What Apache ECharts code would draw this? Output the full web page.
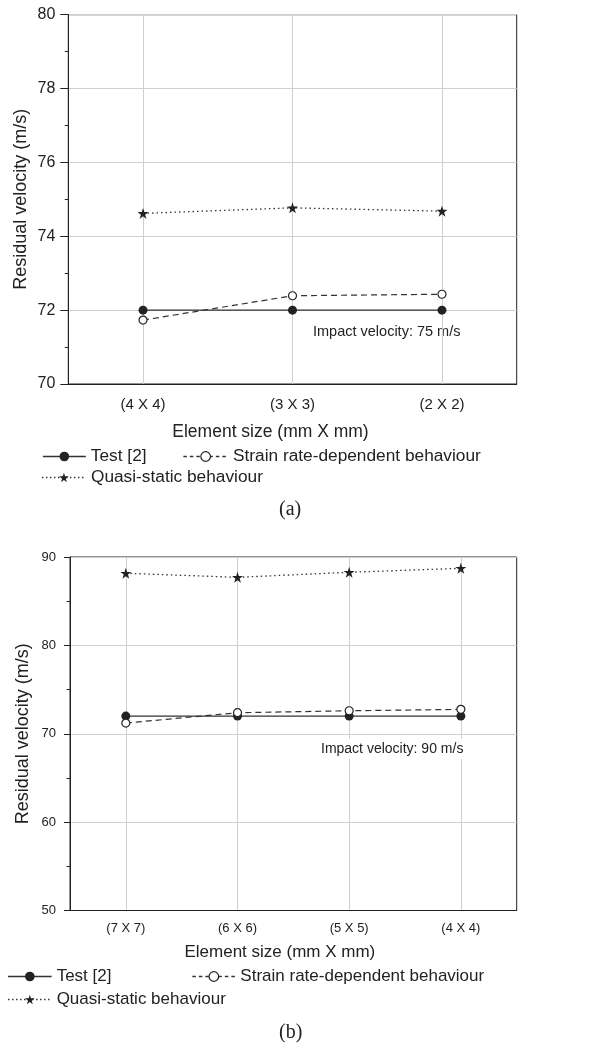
<!DOCTYPE html>
<html>
<head>
<meta charset="utf-8">
<script src="https://cdn.jsdelivr.net/npm/echarts/dist/echarts.min.js"></script>
<style>
  html, body { margin: 0; padding: 0; background: #fff; }
  #chart { width: 590px; height: 1044px; }
</style>
</head>
<body>
<div id="chart"></div>
<script>
// panel (a) - impact velocity 75 m/s
const catsA = ['(4 X 4)', '(3 X 3)', '(2 X 2)'];
const testA = [72, 72, 72];
const strainA = [71.73, 72.39, 72.43];
const quasiA = [74.62, 74.77, 74.68];
const yTicksA = [70, 72, 74, 76, 78, 80];

// panel (b) - impact velocity 90 m/s
const catsB = ['(7 X 7)', '(6 X 6)', '(5 X 5)', '(4 X 4)'];
const testB = [72, 72, 72, 72];
const strainB = [71.21, 72.38, 72.6, 72.76];
const quasiB = [88.16, 87.7, 88.27, 88.72];
const yTicksB = [50, 60, 70, 80, 90];

const names = ['Test [2]', 'Strain rate-dependent behaviour', 'Quasi-static behaviour'];

var FONT = '"Liberation Sans", Arial, Helvetica, sans-serif';
var SERIF = '"Liberation Serif", "Times New Roman", serif';
var INK = '#222';
var GRID = '#cfcfcf';
var STAR = 'path://M50 0 L61.2 34.5 L97.6 34.5 L68.2 55.9 L79.4 90.5 L50 69.1 L20.6 90.5 L31.8 55.9 L2.4 34.5 L38.8 34.5 Z';

var myChart = echarts.init(document.getElementById('chart'));

function seriesFor(idx, test, strain, quasi) {
  return [
    {
      name: names[0], type: 'line', xAxisIndex: idx * 2, yAxisIndex: idx,
      data: test, symbol: 'circle', symbolSize: 9, z: 3,
      itemStyle: { color: INK },
      lineStyle: { color: '#333', width: 1.4, type: 'solid' }
    },
    {
      name: names[1], type: 'line', xAxisIndex: idx * 2, yAxisIndex: idx,
      data: strain, symbol: 'circle', symbolSize: 8, z: 4,
      itemStyle: { color: '#fff', borderColor: INK, borderWidth: 1.2 },
      lineStyle: { color: '#333', width: 1.2, type: [6, 4] }
    },
    {
      name: names[2], type: 'line', xAxisIndex: idx * 2, yAxisIndex: idx,
      data: quasi, symbol: STAR, symbolSize: 11, z: 3,
      itemStyle: { color: INK },
      lineStyle: { color: '#333', width: 1.3, type: [1.5, 3] }
    }
  ];
}

function xAxes(idx, cats, fs, tick, margin, nameFs, nameGap, shift) {
  return [
    {
      type: 'category', gridIndex: idx, position: 'bottom', data: cats, boundaryGap: true,
      name: 'Element size (mm X mm)', nameLocation: 'middle', nameGap: nameGap,
      nameTextStyle: { fontFamily: FONT, fontSize: nameFs, color: INK, padding: [0, shift, 0, 0] },
      axisLine: { lineStyle: { color: INK, width: 1 } },
      axisTick: { alignWithLabel: true, length: tick, lineStyle: { color: INK } },
      axisLabel: { fontFamily: FONT, fontSize: fs, color: INK, margin: margin },
      splitLine: { show: true, alignWithLabel: true, lineStyle: { color: GRID, width: 1 } }
    },
    {
      // short ticks on the band edges
      type: 'category', gridIndex: idx, position: 'bottom', data: cats, boundaryGap: true,
      axisLine: { show: false },
      axisTick: { length: 3.5, lineStyle: { color: INK } },
      axisLabel: { show: false },
      splitLine: { show: false }
    }
  ];
}

function yAxis(idx, ticks, fs, tick, margin, nameGap) {
  return {
    type: 'value', gridIndex: idx,
    min: ticks[0], max: ticks[ticks.length - 1], interval: ticks[1] - ticks[0],
    name: 'Residual velocity (m/s)', nameLocation: 'middle', nameGap: nameGap,
    nameMoveOverlap: false,
    nameTextStyle: { fontFamily: FONT, fontSize: 18, color: INK },
    axisLine: { show: true, lineStyle: { color: INK, width: 1 } },
    axisTick: { show: true, length: tick, lineStyle: { color: INK } },
    minorTick: { show: true, splitNumber: 2, length: 3.5, lineStyle: { color: INK } },
    axisLabel: { fontFamily: FONT, fontSize: fs, color: INK, margin: margin },
    splitLine: { show: true, lineStyle: { color: GRID, width: 1 } }
  };
}

function legendItem(name, left, top, fs, w, dash) {
  return {
    data: [name], left: left, top: top, padding: 0, selectedMode: false,
    itemWidth: w, itemHeight: 12,
    textStyle: { fontFamily: FONT, fontSize: fs, color: INK },
    itemStyle: { borderWidth: 1.2 },
    lineStyle: { width: 1.3, type: dash }
  };
}

var option = {
  animation: false,
  backgroundColor: '#fff',
  grid: [
    { left: 68.3, top: 14.7, right: 73.3, bottom: 660, show: true, borderColor: INK, borderWidth: 1 },
    { left: 70, top: 557, right: 73.3, bottom: 133.5, show: true, borderColor: INK, borderWidth: 1 }
  ],
  xAxis: [].concat(
    xAxes(0, catsA, 15, 8, 13, 17.5, 39, 44),
    xAxes(1, catsB, 13, 6, 11.5, 17, 33, 27)
  ),
  yAxis: [
    yAxis(0, yTicksA, 16, 8, 13, 38),
    yAxis(1, yTicksB, 13, 6, 14, 38)
  ],
  legend: [
    legendItem(names[0], 42.2, 448, 17.3, 43, 'solid'),
    legendItem(names[1], 182.7, 448, 17.3, 44.6, [3.5, 3]),
    legendItem(names[2], 41.3, 469, 17.3, 44, [1.5, 2.5]),
    legendItem(names[0], 7.4, 968, 17, 43.6, 'solid'),
    legendItem(names[1], 191.7, 968, 17, 43, [3.5, 3]),
    legendItem(names[2], 7.4, 991, 17, 43.6, [1.5, 2.5])
  ],
  graphic: [
    { type: 'text', left: 313, top: 324, style: { text: 'Impact velocity: 75 m/s', font: '14.5px ' + FONT, fill: INK } },
    { type: 'text', left: 318, top: 739, z: 10,
      style: { text: 'Impact velocity: 90 m/s', font: '14px ' + FONT, fill: INK, backgroundColor: '#fff', padding: [3, 3] } },
    { type: 'text', left: 279, top: 500, style: { text: '(a)', font: '20px ' + SERIF, fill: INK } },
    { type: 'text', left: 279, top: 1023, style: { text: '(b)', font: '20px ' + SERIF, fill: INK } }
  ],
  series: [].concat(
    seriesFor(0, testA, strainA, quasiA),
    seriesFor(1, testB, strainB, quasiB)
  )
};

myChart.setOption(option);
</script>
</body>
</html>
